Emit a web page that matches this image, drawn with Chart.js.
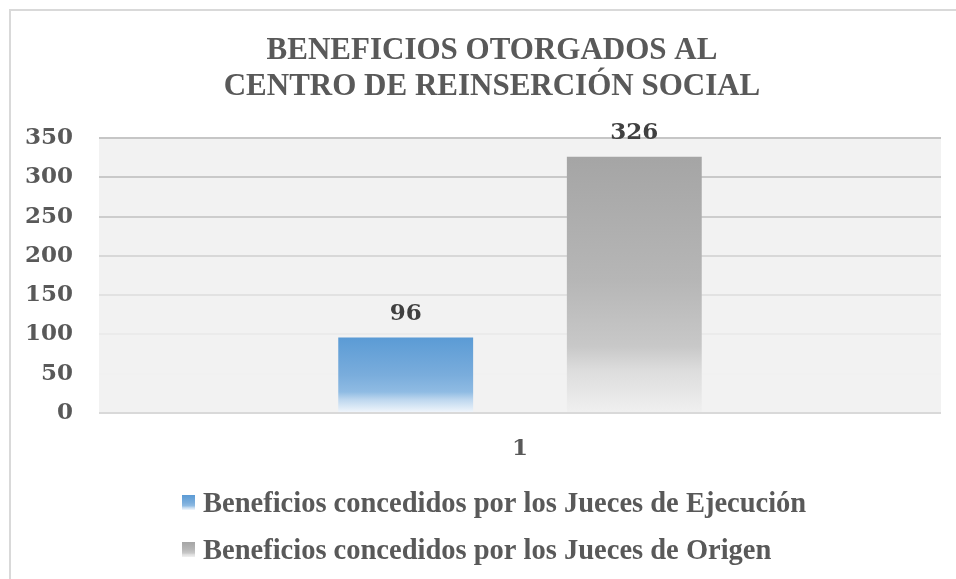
<!DOCTYPE html>
<html lang="es">
<head>
  <meta charset="UTF-8" />
  <title>Beneficios otorgados al Centro de Reinserción Social</title>
  <script src="https://cdn.jsdelivr.net/npm/chart.js@4/dist/chart.umd.min.js"></script>
  <style>
    html, body { margin: 0; padding: 0; background: #fff; overflow: hidden; }
    .frame {
      position: absolute; left: 9px; top: 9px; width: 960px; height: 580px;
      border-top: 2px solid #d9d9d9; border-left: 2px solid #d9d9d9;
    }
    #chart { position: absolute; left: 0; top: 0; }
  </style>
</head>
<body>
  <div class="frame"></div>
  <canvas id="chart" width="956" height="579"></canvas>

  <script>
    const categories = ['1'];
    const seriesLabels = [
      'Beneficios concedidos por los Jueces de Ejecución',
      'Beneficios concedidos por los Jueces de Origen',
    ];
    const titleLines = ['BENEFICIOS OTORGADOS AL', 'CENTRO DE REINSERCIÓN SOCIAL'];
    const ejecucion = [96];
    const origen = [326];
    const yMin = 0;
    const yMax = 350;
    const yStep = 50;

    const TEXT = '#595959';
    const NUM_FONT = 'DejaVu Serif';
    const TXT_FONT = 'Liberation Serif';

    // excel-like fades, top of bar -> base
    const blueStops = [[0, '#5b9bd5'], [0.5, '#7aaddc'], [0.72, '#8fbbe3'], [0.82, '#bcd6ee'], [1, '#f3f7fc']];
    const grayStops = [[0, '#a5a5a5'], [0.48, '#b6b6b6'], [0.74, '#c8c8c8'], [0.83, '#dcdcdc'], [1, '#f0f0f0']];

    function fade(ctx, top, bottom, stops) {
      const g = ctx.createLinearGradient(0, top, 0, bottom);
      stops.forEach(([p, c]) => g.addColorStop(p, c));
      return g;
    }

    function barFill(stops) {
      return (context) => {
        const chart = context.chart;
        if (!chart.chartArea || context.raw == null) return stops[0][1];
        const y = chart.scales.y;
        return fade(chart.ctx, y.getPixelForValue(context.raw), y.getPixelForValue(0), stops);
      };
    }

    const gridColors = { 350: '#c6c6c6', 300: '#c9c9c9', 250: '#cdcdcd', 200: '#d8d8d8', 150: '#e2e2e2', 100: '#ebebeb', 50: '#f1f1f1', 0: '#d9d9d9' };

    const plotBg = {
      id: 'plotBg',
      beforeDraw(chart) {
        const { ctx, chartArea: a } = chart;
        ctx.save();
        ctx.fillStyle = '#f2f2f2';
        ctx.fillRect(a.left, a.top, a.right - a.left, a.bottom - a.top);
        ctx.restore();
      },
    };

    // title centred a bit left of the plot, the way the office chart places it
    const sheetTitle = {
      id: 'sheetTitle',
      afterDraw(chart) {
        const ctx = chart.ctx;
        ctx.save();
        ctx.font = 'bold 31px "' + TXT_FONT + '"';
        ctx.fillStyle = TEXT;
        ctx.textAlign = 'center';
        ctx.textBaseline = 'alphabetic';
        titleLines.forEach((line, i) => ctx.fillText(line, 492, 59 + i * 36));
        ctx.restore();
      },
    };

    const valueLabels = {
      id: 'valueLabels',
      afterDatasetsDraw(chart) {
        const ctx = chart.ctx;
        ctx.save();
        ctx.font = 'bold 23px "' + NUM_FONT + '"';
        ctx.fillStyle = '#404040';
        ctx.textAlign = 'center';
        ctx.textBaseline = 'alphabetic';
        chart.data.datasets.forEach((ds, i) => {
          chart.getDatasetMeta(i).data.forEach((bar, j) => {
            ctx.fillText(String(ds.data[j]), bar.x, bar.y - 18);
          });
        });
        ctx.restore();
      },
    };

    // legend stacked and left aligned like the office chart
    const stackedLegend = {
      id: 'stackedLegend',
      afterDraw(chart) {
        const { ctx, chartArea: a } = chart;
        const x = a.left + 83;
        ctx.save();
        ctx.font = 'bold 28.5px "' + TXT_FONT + '"';
        ctx.textBaseline = 'alphabetic';
        ctx.textAlign = 'left';
        chart.data.datasets.forEach((ds, i) => {
          const base = a.bottom + 99 + i * 47;
          const boxTop = base - 17;
          ctx.fillStyle = fade(ctx, boxTop, boxTop + 15, ds.legendStops);
          ctx.fillRect(x, boxTop, 13, 15);
          ctx.fillStyle = TEXT;
          ctx.fillText(ds.label, x + 21, base);
        });
        ctx.restore();
      },
    };

    new Chart(document.getElementById('chart'), {
      type: 'bar',
      data: {
        labels: categories,
        datasets: [
          {
            label: seriesLabels[0],
            data: ejecucion,
            backgroundColor: barFill(blueStops),
            legendStops: blueStops,
            categoryPercentage: 0.543,
            barPercentage: 0.59,
          },
          {
            label: seriesLabels[1],
            data: origen,
            backgroundColor: barFill(grayStops),
            legendStops: grayStops,
            categoryPercentage: 0.543,
            barPercentage: 0.59,
          },
        ],
      },
      options: {
        responsive: false,
        animation: false,
        devicePixelRatio: 1,
        layout: { padding: { top: 138, left: 0, right: 15, bottom: 106 } },
        plugins: {
          legend: { display: false },
          tooltip: { enabled: false },
          title: { display: false },
        },
        scales: {
          x: {
            grid: { display: false },
            border: { display: false },
            ticks: {
              color: TEXT,
              padding: 14,
              font: { family: NUM_FONT, size: 23, weight: 'bold' },
            },
            afterFit(scale) { scale.height = 60; },
          },
          y: {
            min: yMin,
            max: yMax,
            border: { display: false },
            grid: {
              drawTicks: false,
              lineWidth: 2,
              color: (c) => gridColors[c.tick.value] || '#d9d9d9',
            },
            ticks: {
              stepSize: yStep,
              color: TEXT,
              padding: 26,
              font: { family: NUM_FONT, size: 23, weight: 'bold' },
            },
            afterFit(scale) { scale.width = 99; },
          },
        },
      },
      plugins: [plotBg, valueLabels, stackedLegend, sheetTitle],
    });
  </script>
</body>
</html>
